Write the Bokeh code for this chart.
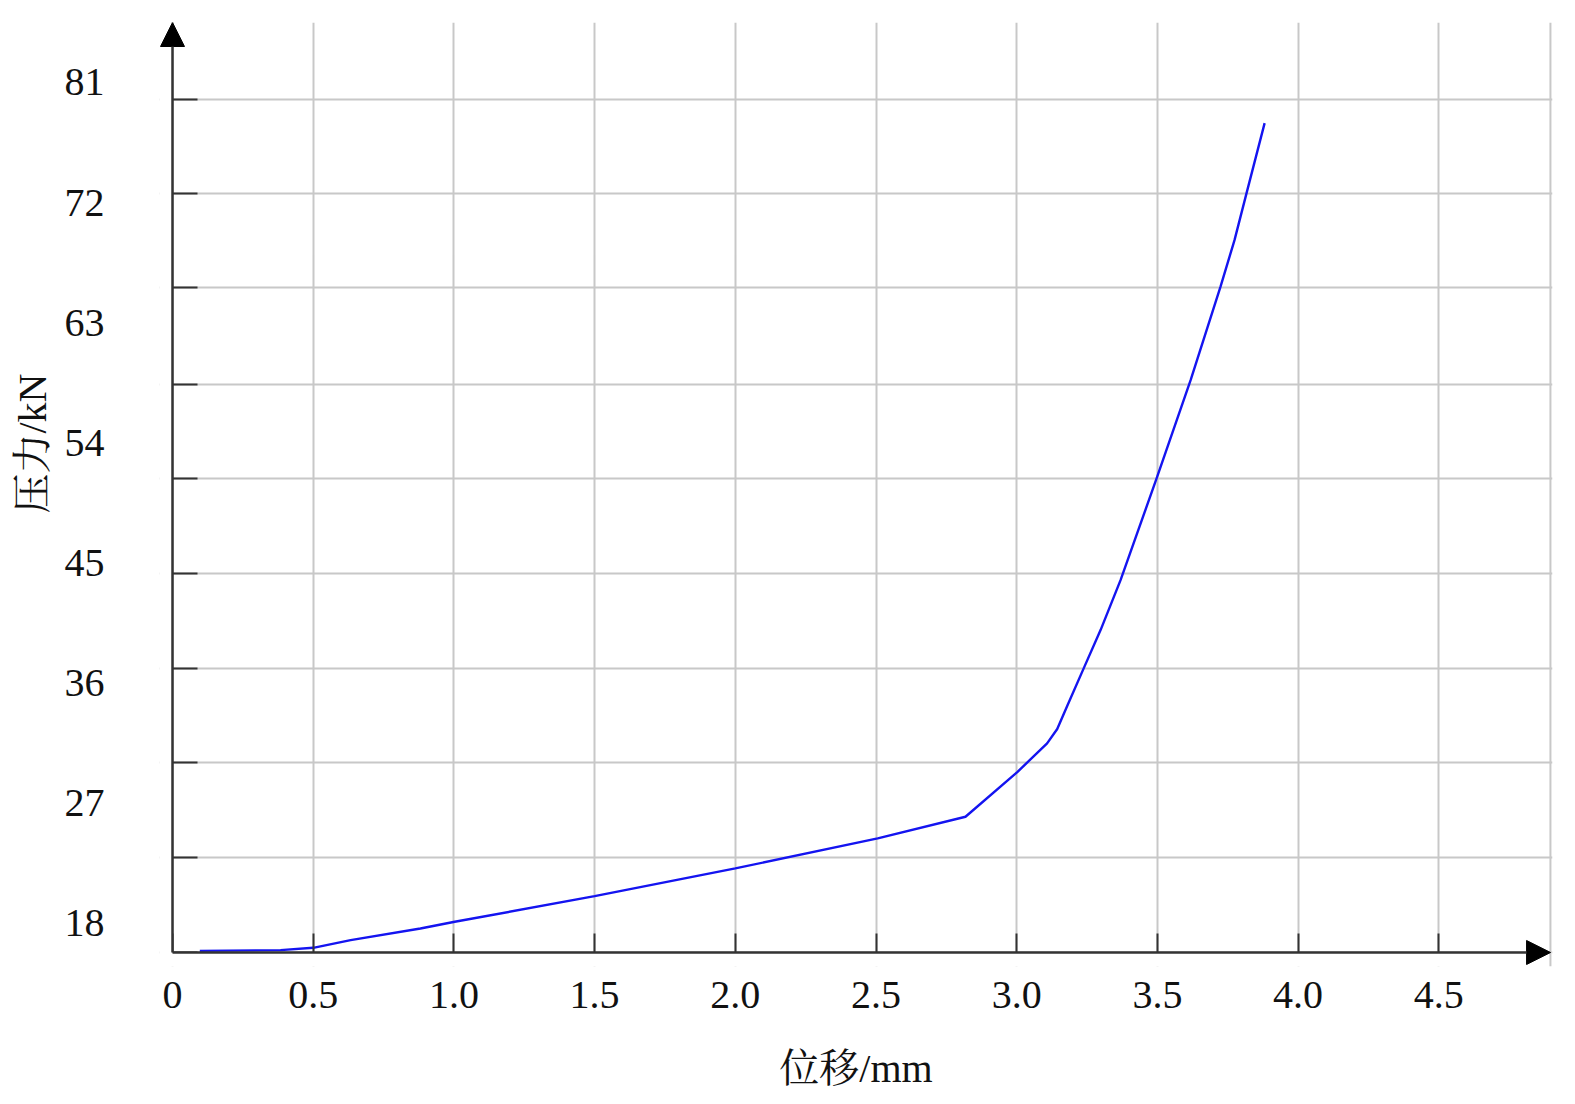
from bokeh.plotting import figure
from bokeh.models import (Range1d, FixedTicker, LinearAxis, Arrow, NormalHead,
                          Span, CustomJSTickFormatter, BoxAnnotation, Title)
from bokeh.embed import file_html
from bokeh.resources import INLINE

# ---- data ----
displacement_mm = [0.097, 0.384, 0.50, 0.633, 0.881, 1.003, 1.50, 2.00, 2.506,
                   2.818, 3.003, 3.108, 3.144, 3.179, 3.238, 3.298, 3.369,
                   3.499, 3.618, 3.724, 3.774, 3.817, 3.881]
force_kN = [15.92, 15.98, 16.15, 16.73, 17.60, 18.10, 20.02, 22.10, 24.35,
            25.97, 29.34, 31.47, 32.55, 34.25, 37.09, 39.96, 43.70,
            51.44, 58.69, 65.68, 69.18, 72.72, 77.95]

x_ticks = [0, 0.5, 1.0, 1.5, 2.0, 2.5, 3.0, 3.5, 4.0, 4.5]
x_tick_labels = ["0", "0.5", "1.0", "1.5", "2.0", "2.5", "3.0", "3.5", "4.0", "4.5"]
y_label_values = [18, 27, 36, 45, 54, 63, 72, 81]
y_grid_values = [15.8, 22.9, 30.0, 37.1, 44.2, 51.3, 58.4, 65.6, 72.7, 79.7]

x_title = "位移/mm"
y_title = "压力/kN"

X_AXIS_AT, X_MAX = 0.0, 4.904      # x origin (y-axis position) and right end
Y_AXIS_AT, Y_MAX = 15.8, 85.49     # y origin (x-axis position) and top end
X_PAD, Y_PAD = 0.0462, 1.05        # room for the arrow heads

FONT = "Liberation Serif, Noto Serif CJK SC, Noto Sans CJK SC, serif"
AXIS_COLOR = "#333333"
GRID_COLOR = "#c8c8c8"
TEXT_COLOR = "#111111"

p = figure(frame_width=1393, frame_height=944,
           x_range=Range1d(X_AXIS_AT - X_PAD, X_MAX),
           y_range=Range1d(Y_AXIS_AT - Y_PAD, Y_MAX),
           output_backend="svg", toolbar_location=None,
           min_border_left=159, min_border_top=22, min_border_right=12,
           min_border_bottom=128)
p.outline_line_color = None
p.background_fill_color = "white"
p.border_fill_color = "white"

# ---- x axis (line drawn by the arrow below) ----
xa = p.xaxis[0]
xa.ticker = FixedTicker(ticks=x_ticks)
xa.formatter = CustomJSTickFormatter(
    args=dict(vals=x_ticks, labels=x_tick_labels),
    code="const i = vals.indexOf(tick); return i >= 0 ? labels[i] : tick.toFixed(1);")
xa.major_tick_in = 33
xa.major_tick_out = -3
xa.minor_tick_line_color = None
xa.major_tick_line_color = AXIS_COLOR
xa.major_tick_line_width = 2
xa.axis_line_color = None
xa.major_label_text_font = FONT
xa.major_label_text_font_size = "40px"
xa.major_label_text_color = TEXT_COLOR
xa.major_label_standoff = 15
xa.axis_label = x_title
xa.axis_label_text_font = FONT
xa.axis_label_text_font_size = "40px"
xa.axis_label_text_font_style = "normal"
xa.axis_label_text_color = TEXT_COLOR
xa.axis_label_standoff = 35

# ---- y axis: inward ticks at grid positions ----
ya = p.yaxis[0]
ya.ticker = FixedTicker(ticks=y_grid_values)
ya.formatter = CustomJSTickFormatter(code="return '';")
ya.major_tick_in = 38
ya.major_tick_out = -3
ya.minor_tick_line_color = None
ya.major_tick_line_color = AXIS_COLOR
ya.major_tick_line_width = 2
ya.axis_line_color = None
ya.major_label_text_font_size = "0px"
ya.major_label_standoff = 0

# ---- y axis: value labels ----
ya2 = LinearAxis(ticker=FixedTicker(ticks=y_label_values))
ya2.axis_line_color = None
ya2.major_tick_line_color = None
ya2.minor_tick_line_color = None
ya2.major_tick_in = 0
ya2.major_tick_out = 0
ya2.major_label_standoff = 55
ya2.major_label_text_font = FONT
ya2.major_label_text_font_size = "40px"
ya2.major_label_text_color = TEXT_COLOR
p.add_layout(ya2, "left")

# ---- y title ----
p.add_layout(Title(text=y_title, align="left", offset=453, standoff=14,
                   text_font=FONT, text_font_size="40px", text_font_style="normal",
                   text_color=TEXT_COLOR), "left")

# ---- grid ----
p.xgrid.ticker = FixedTicker(ticks=x_ticks)
p.ygrid.ticker = FixedTicker(ticks=y_grid_values)
for g in (p.xgrid[0], p.ygrid[0]):
    g.grid_line_color = GRID_COLOR
    g.grid_line_width = 2

# white masks over the padding outside the axes (hides grid / tick stubs)
p.add_layout(BoxAnnotation(right=X_AXIS_AT, fill_color="white", fill_alpha=1,
                           line_color=None, level="annotation"))
p.add_layout(BoxAnnotation(top=Y_AXIS_AT, fill_color="white", fill_alpha=1,
                           line_color=None, level="annotation"))

p.add_layout(Span(location=X_MAX * 0.9985, dimension="height",
                  line_color=GRID_COLOR, line_width=2))

# ---- axis lines with arrow heads ----
p.add_layout(Arrow(end=NormalHead(size=24, fill_color="black", line_color="black"),
                   x_start=X_AXIS_AT, y_start=Y_AXIS_AT, x_end=X_AXIS_AT, y_end=Y_MAX,
                   line_color=AXIS_COLOR, line_width=2.5))
p.add_layout(Arrow(end=NormalHead(size=24, fill_color="black", line_color="black"),
                   x_start=X_AXIS_AT, y_start=Y_AXIS_AT, x_end=X_MAX * 0.9986,
                   y_end=Y_AXIS_AT, line_color=AXIS_COLOR, line_width=2.5))

# ---- curve ----
p.line(displacement_mm, force_kN, line_color="#1414f0", line_width=2.4)

open("out.html", "w").write(file_html(p, INLINE))
